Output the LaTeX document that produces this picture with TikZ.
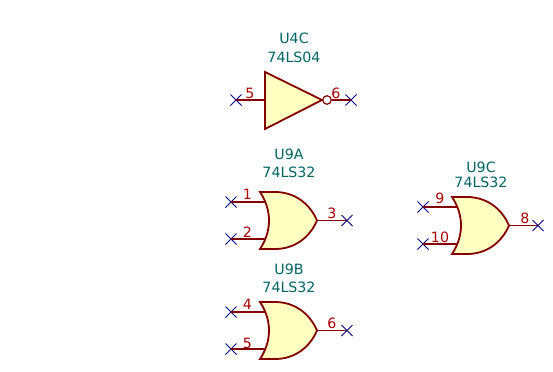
\documentclass[tikz,border=0pt]{standalone}
\usepackage{fontspec}
\setmainfont{DejaVu Sans}
\usetikzlibrary{shapes.misc}

\definecolor{partred}{HTML}{840000}
\definecolor{partfill}{HTML}{FFFFC2}
\definecolor{pinred}{HTML}{A90000}
\definecolor{refteal}{HTML}{006464}
\definecolor{markblue}{HTML}{000084}

\begin{document}
\begin{tikzpicture}[
    x=1bp, y=-1bp,
    body/.style={draw=partred, fill=partfill, line width=1.8bp, line join=miter},
    pin/.style={draw=partred, line width=1.2bp},
    bubble/.style={circle, draw=partred, fill=white, line width=1.2bp, minimum size=8.5bp, inner sep=0pt},
    nc/.style={cross out, draw=markblue, line width=1bp, minimum size=10bp, inner sep=0pt},
    ref/.style={text=refteal, font=\fontsize{14.2bp}{15bp}\selectfont, inner sep=0pt},
    num/.style={text=pinred, font=\fontsize{14.2bp}{15bp}\selectfont, inner sep=0pt},
    orgate/.pic={
        \path[body] (0,0) -- (15,0) .. controls (35,0) and (50,12) .. (57,28.5)
            .. controls (50,45) and (35,57) .. (15,57) -- (0,57)
            .. controls (12,39) and (12,18) .. (0,0) -- cycle;
        \coordinate (-in1) at (5,10);
        \coordinate (-in2) at (5,47);
        \coordinate (-out) at (57,28.5);
    },
]
\useasboundingbox (0,0) rectangle (553,371);

% U4C inverter
\path[body] (265,72) coordinate (u4c-top) -- (322,100) coordinate (u4c-tip) -- (265,129) -- cycle;
\coordinate (u4c-in) at (265,100);
\node[bubble] (u4c-inv) at (327,100) {};
\node[nc] (x5) at (236,100) {};
\node[nc] (x6) at (351,100) {};
\draw[pin] (x5.center) -- (u4c-in);
\draw[pin] (u4c-inv) -- (x6.center);
\node[ref] (u4c) at (294,38) {U4C};
\node[ref] (u4cval) at (294,57.5) {74LS04};
\node[num] (p5) at (250,93) {5};
\node[num] (p6) at (336,93) {6};

% U9A
\pic (u9a) at (260,192) {orgate};
\node[nc] (xa1) at (231,202) {};
\node[nc] (xa2) at (231,239) {};
\node[nc] (xa3) at (347,220.5) {};
\draw[pin] (xa1.center) -- (u9a-in1);
\draw[pin] (xa2.center) -- (u9a-in2);
\draw[pin] (u9a-out) -- (xa3.center);
\node[ref] (u9a) at (289,154) {U9A};
\node[ref] (u9aval) at (289,172.5) {74LS32};
\node[num] (a1) at (247.5,194) {1};
\node[num] (a2) at (247.5,232) {2};
\node[num] (a3) at (332,213) {3};

% U9B
\pic (u9b) at (260,302) {orgate};
\node[nc] (xb4) at (231,312) {};
\node[nc] (xb5) at (231,349) {};
\node[nc] (xb6) at (347,330.5) {};
\draw[pin] (xb4.center) -- (u9b-in1);
\draw[pin] (xb5.center) -- (u9b-in2);
\draw[pin] (u9b-out) -- (xb6.center);
\node[ref] (u9b) at (289,269) {U9B};
\node[ref] (u9bval) at (289,287.5) {74LS32};
\node[num] (b4) at (247.5,304) {4};
\node[num] (b5) at (247.5,343) {5};
\node[num] (b6) at (332,323) {6};

% U9C
\pic (u9c) at (452,197) {orgate};
\node[nc] (xc9) at (423,207) {};
\node[nc] (xc10) at (423,244) {};
\node[nc] (xc8) at (538,225.5) {};
\draw[pin] (xc9.center) -- (u9c-in1);
\draw[pin] (xc10.center) -- (u9c-in2);
\draw[pin] (u9c-out) -- (xc8.center);
\node[ref] (u9c) at (481,167) {U9C};
\node[ref] (u9cval) at (481,182) {74LS32};
\node[num] (c9) at (440,198) {9};
\node[num] (c10) at (440,237) {10};
\node[num] (c8) at (525,218) {8};

\end{tikzpicture}
\end{document}
